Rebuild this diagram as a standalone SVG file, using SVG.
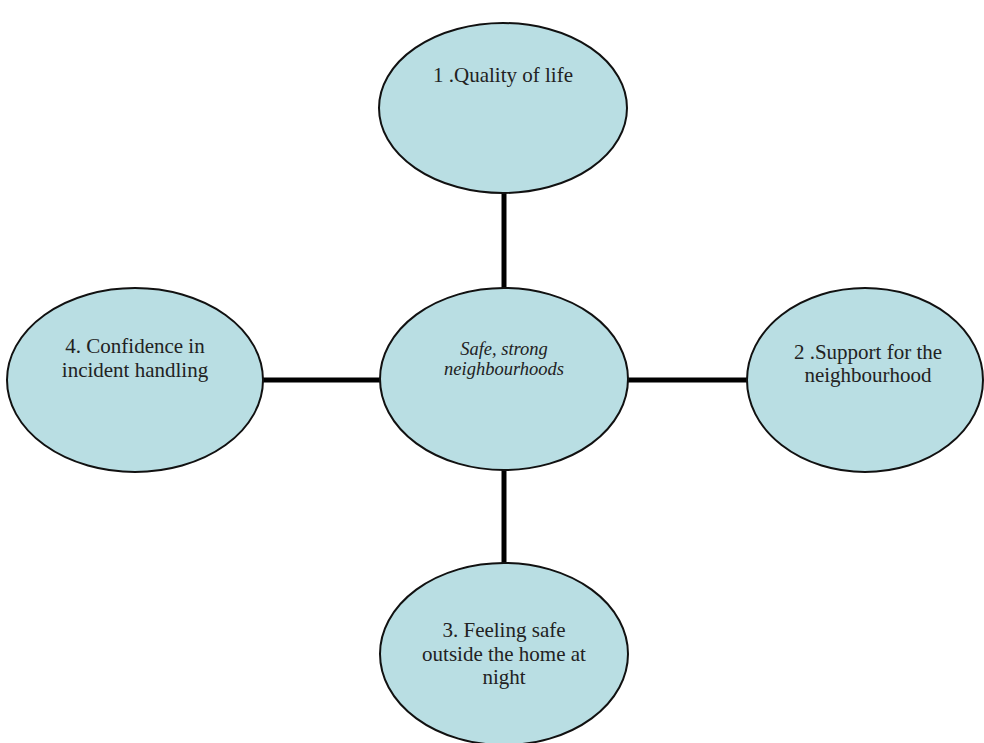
<svg xmlns="http://www.w3.org/2000/svg" width="984" height="743" viewBox="0 0 984 743">
<style>
.n{fill:#b9dee3;stroke:#111;stroke-width:2}
.t{font-family:"Liberation Serif","Times New Roman",serif;font-size:21px;fill:#222;text-anchor:middle}
.i{font-style:italic;font-size:18.5px}
.c{stroke:#000;stroke-width:5;fill:none}
</style>
<rect width="984" height="743" fill="#fff"/>
<g id="connectors">
<line class="c" x1="504" y1="192" x2="504" y2="289"/>
<line class="c" x1="504" y1="469" x2="504" y2="564"/>
<line class="c" x1="262" y1="380" x2="381" y2="380"/>
<line class="c" x1="627" y1="380" x2="748" y2="380"/>
</g>
<g id="n1">
<ellipse class="n" cx="503" cy="108" rx="124" ry="85"/>
<text class="t" x="503" y="82">1 .Quality of life</text>
</g>
<g id="center">
<ellipse class="n" cx="504" cy="379" rx="124" ry="91"/>
<text class="t i" x="504" y="355">Safe, strong</text>
<text class="t i" x="504" y="375">neighbourhoods</text>
</g>
<g id="n4">
<ellipse class="n" cx="135" cy="380" rx="128" ry="92"/>
<text class="t" x="135" y="353">4. Confidence in</text>
<text class="t" x="135" y="377">incident handling</text>
</g>
<g id="n2">
<ellipse class="n" cx="865" cy="380" rx="118" ry="92"/>
<text class="t" x="868" y="359">2 .Support for the</text>
<text class="t" x="868" y="382">neighbourhood</text>
</g>
<g id="n3">
<ellipse class="n" cx="504" cy="654" rx="124" ry="91"/>
<text class="t" x="504" y="637">3. Feeling safe</text>
<text class="t" x="504" y="661">outside the home at</text>
<text class="t" x="504" y="684">night</text>
</g>
</svg>
